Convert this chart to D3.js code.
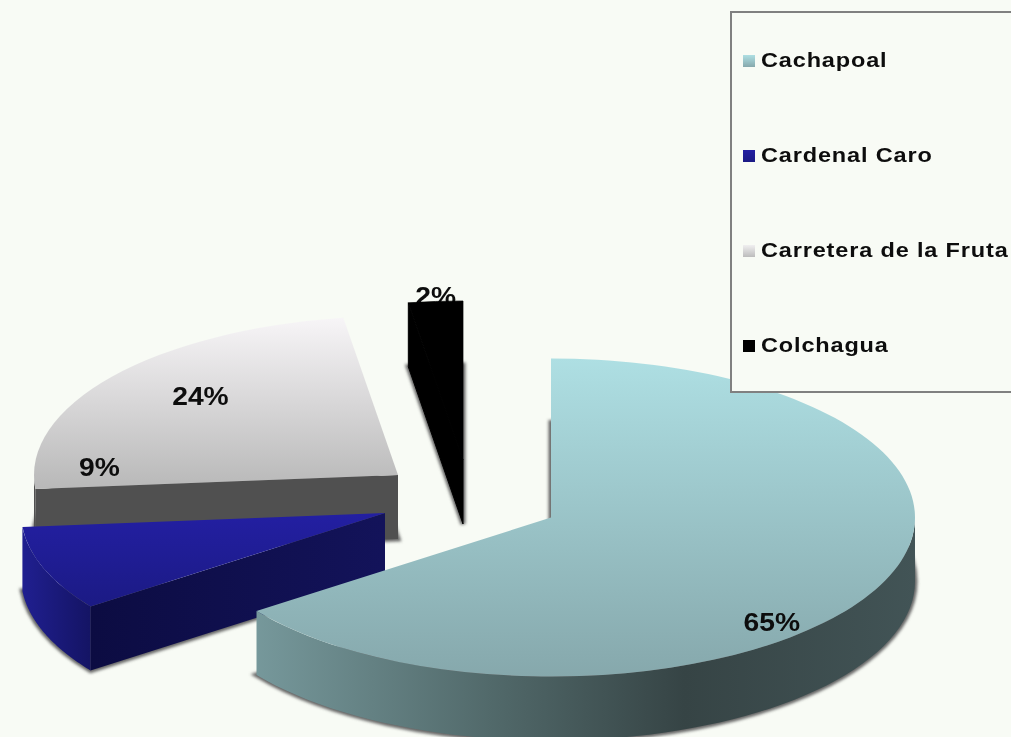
<!DOCTYPE html>
<html>
<head>
<meta charset="utf-8">
<script src="https://cdn.jsdelivr.net/npm/d3@7"></script>
<style>
  html, body { margin: 0; padding: 0; background: #f8fbf5; overflow: hidden; }
  svg { display: block; }
  text { font-family: "Liberation Sans", Arial, sans-serif; font-weight: bold; fill: #0c0c0c; }
</style>
</head>
<body>
<svg id="chart" width="1011" height="737"></svg>
<script>
// --- Data ------------------------------------------------------------------
const categories = ["Cachapoal", "Cardenal Caro", "Carretera de la Fruta", "Colchagua"];
const shares = [65, 8.6, 24, 2.4];

// --- Layout ----------------------------------------------------------------
const width = 1011, height = 737;
const rx = 364, ry = 159, depth = 64;
const apexX = [551, 385, 398, 463];  // exploded slices, top-face apex
const apexY = [517.5, 513, 475, 460];
const labelRadius = [0.65, 0.7, 0.65, 1];
const labelNudge = [[10, 58], [-47, -85], [-11.5, -15], [0, -5]];

// --- Colours ---------------------------------------------------------------
const topStops = [["#aedfe3", "#86a8ac"], ["#231fa2", "#1b1a84"], ["#f7f5f7", "#b8b8b8"], ["#000", "#000"]];
const outerStops = [
  [[0, "#76989b"], [0.35, "#526a6b"], [0.65, "#364445"], [1, "#425456"]],
  [[0, "#201f90"], [1, "#141464"]],
  [[0, "#505050"], [1, "#505050"]],
  [[0, "#000"], [1, "#000"]]
];
const cutStops = [
  [[0, "#000"], [1, "#000"]],
  [[0, "#0c0c42"], [1, "#13135a"]],
  [[0, "#505050"], [1, "#505050"]],
  [[0, "#000"], [1, "#000"]]
];
const keyStops = [["#aedfe3", "#86a8ac"], ["#231fa2", "#1b1a84"], ["#f0eff0", "#bcbcbc"], ["#000", "#000"]];

const svg = d3.select("#chart");
const defs = svg.append("defs");

function gradient(id, stops, horizontal) {
  const g = defs.append("linearGradient").attr("id", id)
    .attr("x1", 0).attr("y1", 0)
    .attr("x2", horizontal ? 1 : 0).attr("y2", horizontal ? 0 : 1);
  g.selectAll("stop").data(stops).enter().append("stop")
    .attr("offset", d => d[0]).attr("stop-color", d => d[1]);
}

const blur = defs.append("filter").attr("id", "soft")
  .attr("x", "-10%").attr("y", "-10%").attr("width", "120%").attr("height", "120%");
blur.append("feGaussianBlur").attr("stdDeviation", 1.8);
const textBlur = defs.append("filter").attr("id", "textSoft");
textBlur.append("feGaussianBlur").attr("stdDeviation", 0.45);

categories.forEach((c, i) => {
  gradient("top" + i, [[0, topStops[i][0]], [1, topStops[i][1]]], false);
  gradient("outer" + i, outerStops[i], true);
  gradient("cut" + i, cutStops[i], true);
  gradient("key" + i, [[0, keyStops[i][0]], [1, keyStops[i][1]]], false);
});

svg.append("rect").attr("width", width).attr("height", height).attr("fill", "#f8fbf5");

// --- Pie -------------------------------------------------------------------
const slices = d3.pie().sort(null).value(d => d)(shares)
  .map((d, i) => ({ ...d, i, x: apexX[i], y: apexY[i] }));

const arcGen = d3.arc().innerRadius(0).outerRadius(rx);
const flat = (x, y) => `translate(${x},${y}) scale(1,${ry / rx})`;
const px = (d, a) => d.x + Math.sin(a) * rx;
const py = (d, a) => d.y - Math.cos(a) * ry;
const line = d3.line();

// curved outer wall, only the part that faces the viewer
function outerWall(d) {
  const a0 = Math.max(d.startAngle, Math.PI / 2);
  const a1 = Math.min(d.endAngle, Math.PI * 1.5);
  if (a1 <= a0) return null;
  const steps = d3.range(0, 61).map(k => a0 + (a1 - a0) * k / 60);
  const upper = steps.map(a => [px(d, a), py(d, a)]);
  const lower = steps.slice().reverse().map(a => [px(d, a), py(d, a) + depth]);
  return line(upper.concat(lower)) + "Z";
}
// flat wall along the slice's first radius
function cutWall(d) {
  const ex = px(d, d.startAngle), ey = py(d, d.startAngle);
  return line([[d.x, d.y], [ex, ey], [ex, ey + depth], [d.x, d.y + depth]]) + "Z";
}

// soft shadow: footprint of each slice on the ground
svg.append("g").attr("filter", "url(#soft)")
  .selectAll("path").data(slices).enter().append("path")
  .attr("d", arcGen)
  .attr("transform", d => flat(d.x, d.y + depth))
  .attr("fill", "#666")
  .attr("stroke", "#666")
  .attr("stroke-width", 5)
  .attr("vector-effect", "non-scaling-stroke");

function drawSlice(d) {
  const g = svg.append("g").attr("class", "slice");
  // black slice: hide the hairline seams between its faces
  const seam = d.i === 3 ? "#000" : "none";
  if (d.startAngle > Math.PI) {
    g.append("path").attr("d", cutWall(d)).attr("fill", `url(#cut${d.i})`).attr("stroke", seam);
  }
  const wall = outerWall(d);
  if (wall) g.append("path").attr("d", wall).attr("fill", `url(#outer${d.i})`);
  g.append("path").attr("d", arcGen(d))
    .attr("transform", flat(d.x, d.y))
    .attr("fill", `url(#top${d.i})`)
    .attr("stroke", seam);
}

// back to front; Colchagua sits over its own label
[2, 1, 0].forEach(i => drawSlice(slices[i]));

const labels = svg.append("g").attr("filter", "url(#textSoft)");
slices.forEach(d => {
  const mid = (d.startAngle + d.endAngle) / 2;
  const lx = d.x + Math.sin(mid) * rx * labelRadius[d.i] + labelNudge[d.i][0];
  const ly = d.y - Math.cos(mid) * ry * labelRadius[d.i] + labelNudge[d.i][1];
  labels.append("text")
    .attr("transform", `translate(${lx},${ly}) scale(1.13,1)`)
    .attr("text-anchor", "middle")
    .attr("dy", "0.36em")
    .attr("font-size", 25)
    .text(Math.round(d.data) + "%");
});

drawSlice(slices[3]);

// --- Legend ----------------------------------------------------------------
svg.append("rect")
  .attr("x", 731).attr("y", 12).attr("width", 300).attr("height", 380)
  .attr("fill", "#f8fbf5").attr("stroke", "#808080").attr("stroke-width", 2);

const legendY = d3.scalePoint().domain(categories).range([67, 352]);

const rows = svg.append("g").selectAll("g").data(categories).enter().append("g")
  .attr("transform", d => `translate(0,${legendY(d)})`);
rows.append("rect")
  .attr("x", 743).attr("y", -12).attr("width", 12).attr("height", 12)
  .attr("fill", (d, i) => `url(#key${i})`);
rows.append("text")
  .attr("transform", "translate(761,0) scale(1.12,1)")
  .attr("font-size", 21)
  .attr("letter-spacing", 0.75)
  .attr("filter", "url(#textSoft)")
  .text(d => d);
</script>
</body>
</html>
